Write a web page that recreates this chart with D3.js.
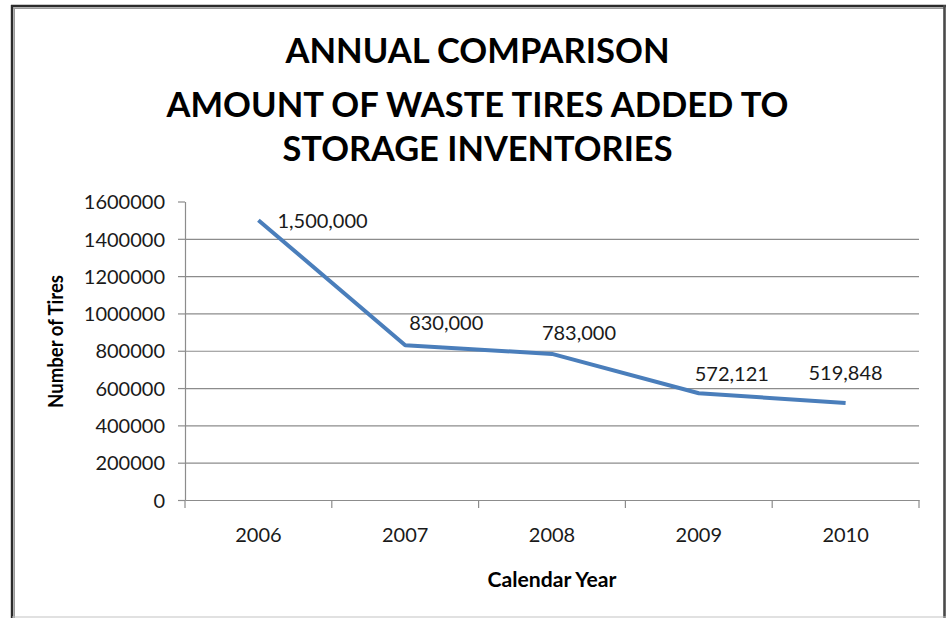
<!DOCTYPE html>
<html>
<head>
<meta charset="utf-8">
<script src="https://cdn.jsdelivr.net/npm/d3@7"></script>
<style>
  html, body { margin: 0; padding: 0; background: #fff; }
  svg { display: block; }
  text { font-family: Lato, "Open Sans", sans-serif; fill: #1a1a1a; }
</style>
</head>
<body>
<svg id="chart" width="948" height="619"></svg>
<script>
// Waste tires added to storage inventories, by calendar year
const years = ["2006", "2007", "2008", "2009", "2010"];
const tires = [1500000, 830000, 783000, 572121, 519848];
const yTicks = [0, 200000, 400000, 600000, 800000, 1000000, 1200000, 1400000, 1600000];
const titleLines = ["ANNUAL COMPARISON", "AMOUNT OF WASTE TIRES ADDED TO", "STORAGE INVENTORIES"];
const xTitle = "Calendar Year";
const yTitle = "Number of Tires";

const svg = d3.select("#chart");

// plot frame
const plot = { left: 185, right: 919, top: 201.5, bottom: 500 };

const x = d3.scaleBand().domain(years).range([plot.left, plot.right]).paddingInner(0).paddingOuter(0);
const y = d3.scaleLinear().domain([0, 1600000]).range([plot.bottom, plot.top]);

// outer border of the chart area
const border = svg.append("g");
border.append("line").attr("x1", 12).attr("x2", 12).attr("y1", 5).attr("y2", 618)
  .attr("stroke", "#2b2b2b").attr("stroke-width", 2.4);
border.append("line").attr("x1", 14.2).attr("x2", 14.2).attr("y1", 8).attr("y2", 618)
  .attr("stroke", "#9a9a9a").attr("stroke-width", 1.6);
border.append("line").attr("x1", 11).attr("x2", 946).attr("y1", 6).attr("y2", 6)
  .attr("stroke", "#2b2b2b").attr("stroke-width", 2.4);
border.append("line").attr("x1", 13).attr("x2", 944).attr("y1", 8.2).attr("y2", 8.2)
  .attr("stroke", "#9a9a9a").attr("stroke-width", 1.6);
border.append("line").attr("x1", 944.5).attr("x2", 944.5).attr("y1", 5).attr("y2", 618)
  .attr("stroke", "#4a4a4a").attr("stroke-width", 2.6);
border.append("line").attr("x1", 12).attr("x2", 946).attr("y1", 617).attr("y2", 617)
  .attr("stroke", "#c4c4c4").attr("stroke-width", 1.2);

// title
const titleBaselines = [63.3, 117, 160.5];
const titleWidths = [384, 622, 390];
svg.append("g").selectAll("text").data(titleLines).join("text")
  .attr("x", 477.5)
  .attr("y", (d, i) => titleBaselines[i])
  .attr("text-anchor", "middle")
  .attr("font-size", 35)
  .attr("font-weight", 700)
  .attr("textLength", (d, i) => titleWidths[i])
  .attr("lengthAdjust", "spacingAndGlyphs")
  .style("fill", "#000")
  .text(d => d);

// horizontal gridlines (none at the top value)
svg.append("g").selectAll("line").data(yTicks.filter(v => v > 0 && v < 1600000)).join("line")
  .attr("x1", plot.left).attr("x2", plot.right)
  .attr("y1", d => y(d) + 0.5).attr("y2", d => y(d) + 0.5)
  .attr("stroke", "#8c8c8c").attr("stroke-width", 1.2);

// y axis
const yAxis = svg.append("g")
  .attr("transform", `translate(${plot.left},0)`)
  .call(d3.axisLeft(y).tickValues(yTicks).tickFormat(d3.format("d")).tickSize(7).tickPadding(13).tickSizeOuter(0));
yAxis.select(".domain").attr("stroke", "#8c8c8c").attr("stroke-width", 1.2);
yAxis.selectAll(".tick line").attr("stroke", "#8c8c8c").attr("stroke-width", 1.2);
yAxis.selectAll(".tick text")
  .attr("font-family", "Lato, 'Open Sans', sans-serif")
  .attr("font-size", 20).attr("fill", "#1a1a1a")
  .attr("dy", "0.36em");

// x axis: labels centred in bands, tick marks on band boundaries
const xAxis = svg.append("g")
  .attr("transform", `translate(0,${plot.bottom})`)
  .call(d3.axisBottom(x).tickSize(0).tickPadding(0).tickSizeOuter(0));
xAxis.select(".domain").attr("stroke", "#8c8c8c").attr("stroke-width", 1.2);
xAxis.selectAll(".tick text")
  .attr("font-family", "Lato, 'Open Sans', sans-serif")
  .attr("font-size", 20).attr("fill", "#1a1a1a")
  .attr("y", 41.5).attr("dy", null);
const boundaries = years.map(d => x(d)).concat([x(years[years.length - 1]) + x.bandwidth()]);
svg.append("g").selectAll("line").data(boundaries).join("line")
  .attr("x1", d => d).attr("x2", d => d)
  .attr("y1", plot.bottom).attr("y2", plot.bottom + 8)
  .attr("stroke", "#8c8c8c").attr("stroke-width", 1.2);

// series line
const pts = years.map((yr, i) => ({ year: yr, value: tires[i] }));
const line = d3.line().x(d => x(d.year) + x.bandwidth() / 2).y(d => y(d.value));
svg.append("path").datum(pts)
  .attr("d", line)
  .attr("fill", "none")
  .attr("stroke", "#4a7ebb")
  .attr("stroke-width", 4)
  .attr("stroke-linejoin", "round")
  .attr("stroke-linecap", "butt");

// value labels beside each point
const labelPlacement = [
  { dx: 19, dy: 8, anchor: "start" },
  { dx: 41, dy: -14.7, anchor: "middle" },
  { dx: 27, dy: -14, anchor: "middle" },
  { dx: 33, dy: -12.3, anchor: "middle" },
  { dx: 0, dy: -23, anchor: "middle" }
];
const fmt = d3.format(",");
svg.append("g").selectAll("text").data(pts).join("text")
  .attr("x", (d, i) => x(d.year) + x.bandwidth() / 2 + labelPlacement[i].dx)
  .attr("y", (d, i) => y(d.value) + labelPlacement[i].dy)
  .attr("text-anchor", (d, i) => labelPlacement[i].anchor)
  .attr("font-size", 20)
  .text(d => fmt(d.value));

// axis titles
svg.append("text")
  .attr("x", (plot.left + plot.right) / 2)
  .attr("y", 587.3)
  .attr("text-anchor", "middle")
  .attr("font-size", 20)
  .attr("font-weight", 700)
  .attr("textLength", 129)
  .attr("lengthAdjust", "spacingAndGlyphs")
  .style("fill", "#000")
  .text(xTitle);

svg.append("text")
  .attr("transform", "translate(63,341.5) rotate(-90)")
  .attr("text-anchor", "middle")
  .attr("font-size", 20)
  .attr("font-weight", 700)
  .attr("textLength", 133)
  .attr("lengthAdjust", "spacingAndGlyphs")
  .style("fill", "#000")
  .text(yTitle);
</script>
</body>
</html>
